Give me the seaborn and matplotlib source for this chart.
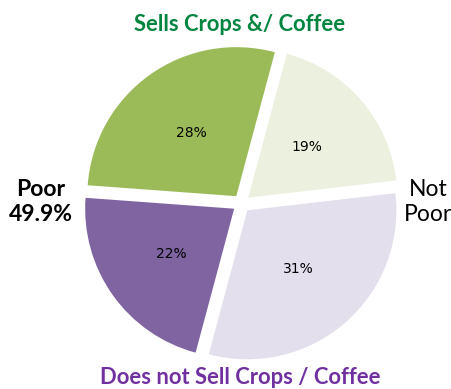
import matplotlib
matplotlib.use("Agg")
import matplotlib.pyplot as plt
import seaborn as sns

# Shares of households by poverty status and crop/coffee sales
slice_labels = ["Poor, sells", "Poor, does not sell", "Not poor, does not sell", "Not poor, sells"]
shares = [28, 22, 31, 19]
slice_colors = ["#9BBB59", "#8064A2", "#E4DFEC", "#EBF1DE"]

top_label = "Sells Crops &/ Coffee"
bottom_label = "Does not Sell Crops / Coffee"
left_label = "Poor\n49.9%"
right_label = "Not\nPoor"

sns.set_theme(style="white")
plt.rcParams["font.family"] = ["Lato", "DejaVu Sans"]

W, H = 451, 389
fig = plt.figure(figsize=(W / 100, H / 100), dpi=100)
ax = fig.add_axes([0, 0, 1, 1])

cx, cy, r = 241.5, H - 203.5, 149
gap = 9  # explode offset, in data units (pixels here)
wedges, texts, autotexts = ax.pie(
    shares,
    colors=slice_colors,
    startangle=75,
    counterclock=True,
    explode=[gap] * len(shares),
    center=(cx, cy),
    radius=r,
    autopct="%d%%",
    pctdistance=0.52,
    wedgeprops=dict(linewidth=0),
    textprops=dict(family="DejaVu Sans", fontsize=10, color="black"),
    frame=True,
)
ax.set_xlim(0, W)
ax.set_ylim(0, H)
ax.set_aspect("equal")
ax.axis("off")

ax.text(240, H - 24, top_label, ha="center", va="center",
        fontsize=15.8, fontweight="bold", color="#00853F")
ax.text(240, H - 377, bottom_label, ha="center", va="center",
        fontsize=15.8, fontweight="bold", color="#7030A0")
ax.text(41, H - 202, left_label, ha="center", va="center",
        fontsize=16.5, fontweight="bold", color="black", linespacing=1.2)
ax.text(428, H - 202, right_label, ha="center", va="center",
        fontsize=16.5, color="black", linespacing=1.2)

fig.savefig("out.png", dpi=100, facecolor="white")
